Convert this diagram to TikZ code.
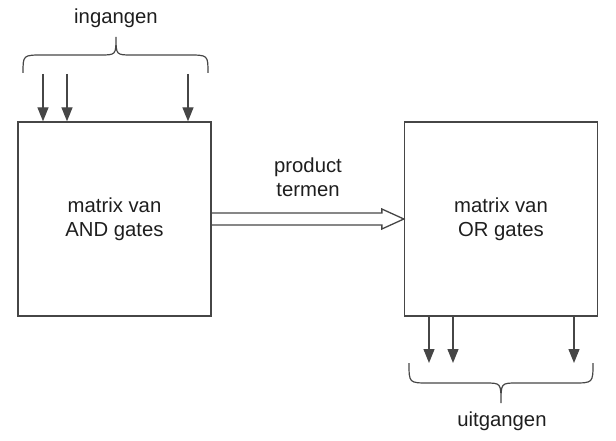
\documentclass[tikz,border=0pt]{standalone}
\usepackage{fontspec}
\setmainfont{Liberation Sans}
\usepackage{tikz}
\usetikzlibrary{arrows.meta, calc}
\definecolor{lijngrijs}{RGB}{70,70,70}
\definecolor{tekstzwart}{RGB}{30,30,30}

\begin{document}
\begin{tikzpicture}[x=1pt, y=-1pt,
    matrixbox/.style={rectangle, draw=lijngrijs, line width=1.3pt, minimum width=193pt,
                      minimum height=194pt, align=center, inner sep=0pt,
                      text=tekstzwart, font=\fontsize{20.3}{24}\selectfont},
    lbl/.style={align=center, inner sep=0pt, text=tekstzwart,
                font=\fontsize{20.3}{24}\selectfont},
    sig/.style={-{Triangle[length=14pt, width=11pt]}, line width=1.3pt, draw=lijngrijs},
    bus/.style={line width=1.3pt, draw=lijngrijs, line join=miter},
    accolade/.style={line width=1.2pt, draw=lijngrijs}]

\useasboundingbox (0,0) rectangle (616,441);

%% Matrix blocks
\node[matrixbox] (andm) at (114.5,219) {matrix van\\AND gates};
\node[matrixbox] (orm)  at (501,219)   {matrix van\\OR gates};

%% Inputs
\coordinate (in1) at (43,74);
\coordinate (in2) at (67,74);
\coordinate (in3) at (188,74);
\foreach \i in {in1,in2,in3}
    \draw[sig] (\i) -- (\i |- andm.north);

\draw[accolade] (23,73) .. controls (23,55) .. (43,55) -- (100,55)
    .. controls (116,55) .. (116,37) .. controls (116,55) .. (132,55)
    -- (188,55) .. controls (208,55) .. (208,73);
\node[lbl, anchor=base] (ing) at (116,24) {ingangen};

%% Product terms
\draw[bus] ($(andm.east)+(0,-6)$) -- ($(orm.west)+(-22,-6)$) -- ++(0,-4)
    -- (orm.west) -- ++(-22,10) -- ++(0,-4) -- ($(andm.east)+(0,6)$);
\node[lbl] (pt) at (308,177) {product\\termen};

%% Outputs
\coordinate (out1) at (429,363);
\coordinate (out2) at (453,363);
\coordinate (out3) at (574,363);
\foreach \o in {out1,out2,out3}
    \draw[sig] (\o |- orm.south) -- (\o);

\draw[accolade] (409,363) .. controls (409,383) .. (429,383) -- (485,383)
    .. controls (501,383) .. (501,403) .. controls (501,383) .. (517,383)
    -- (573,383) .. controls (593,383) .. (593,363);
\node[lbl, anchor=base] (uit) at (502,426) {uitgangen};

\end{tikzpicture}
\end{document}
